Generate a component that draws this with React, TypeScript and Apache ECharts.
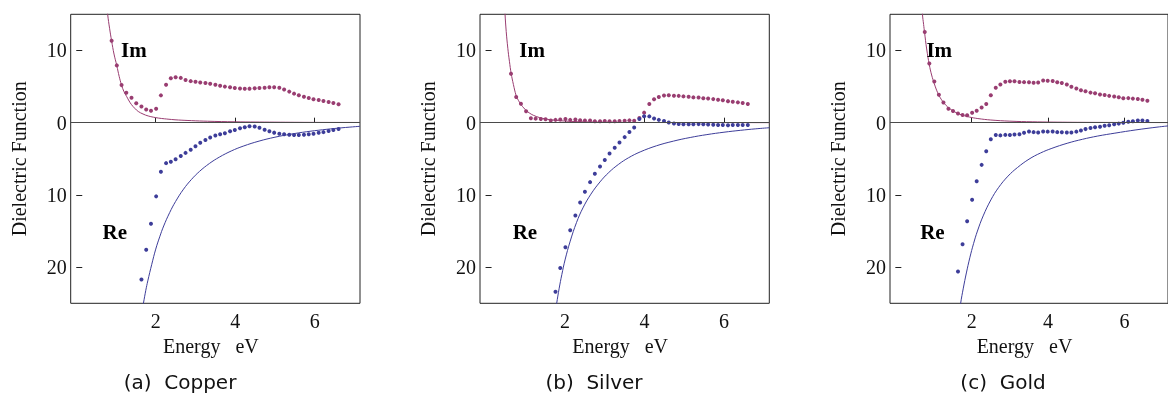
import React, { useEffect, useRef } from "react";
import * as echarts from "echarts";

// Photon energies (eV) of the tabulated optical constants
const ENERGY = [
  0.64, 0.77, 0.89, 1.02, 1.14, 1.26, 1.39, 1.51, 1.64, 1.76, 1.88, 2.01, 2.13,
  2.26, 2.38, 2.5, 2.63, 2.75, 2.88, 3.0, 3.12, 3.25, 3.37, 3.5, 3.62, 3.74,
  3.87, 3.99, 4.12, 4.24, 4.36, 4.49, 4.61, 4.74, 4.86, 4.98, 5.11, 5.23, 5.36,
  5.48, 5.6, 5.73, 5.85, 5.97, 6.1, 6.22, 6.35, 6.47, 6.6,
];

// Measured dielectric function (null = outside the plotted range)
const CU_IM = [
  null, null, 11.34, 7.93, 5.2, 4.14, 3.46, 2.68, 2.25, 1.82, 1.65, 1.93, 3.78,
  5.25, 6.14, 6.28, 6.2, 5.9, 5.75, 5.66, 5.57, 5.48, 5.38, 5.25, 5.12, 4.99,
  4.89, 4.8, 4.74, 4.7, 4.71, 4.75, 4.79, 4.84, 4.89, 4.9, 4.82, 4.6, 4.3, 4.02,
  3.8, 3.6, 3.42, 3.25, 3.13, 3.0, 2.86, 2.72, 2.55,
];
const CU_RE = [
  null, null, null, null, null, null, null, null, -21.7, -17.6, -14.0, -10.2,
  -6.8, -5.6, -5.4, -5.07, -4.6, -4.18, -3.76, -3.25, -2.78, -2.4, -2.05,
  -1.78, -1.61, -1.45, -1.2, -1.01, -0.78, -0.62, -0.5, -0.52, -0.7, -0.98,
  -1.2, -1.38, -1.54, -1.61, -1.68, -1.71, -1.71, -1.66, -1.61, -1.52, -1.4,
  -1.31, -1.15, -1.01, -0.87,
];
const AG_IM = [
  6.76, 3.56, 2.63, 1.59, 0.62, 0.56, 0.5, 0.46, 0.31, 0.39, 0.45, 0.5, 0.39,
  0.43, 0.33, 0.31, 0.29, 0.21, 0.2, 0.23, 0.21, 0.19, 0.23, 0.28, 0.32, 0.28,
  0.64, 1.39, 2.58, 3.23, 3.56, 3.75, 3.79, 3.74, 3.71, 3.64, 3.58, 3.5, 3.47,
  3.39, 3.36, 3.26, 3.18, 3.1, 2.98, 2.91, 2.81, 2.71, 2.59,
];
const AG_RE = [
  null, null, null, null, null, null, null, null, null, -23.4, -20.1, -17.24,
  -14.88, -12.86, -11.05, -9.56, -8.23, -7.06, -6.06, -5.17, -4.28, -3.47,
  -2.74, -2.0, -1.28, -0.66, 0.5, 0.9, 0.87, 0.58, 0.39, 0.22, 0.02, -0.1,
  -0.17, -0.21, -0.21, -0.23, -0.2, -0.22, -0.24, -0.3, -0.32, -0.33, -0.36,
  -0.33, -0.32, -0.31, -0.32,
];
const AU_IM = [
  null, 12.56, 8.19, 5.7, 3.86, 2.79, 1.93, 1.63, 1.27, 1.07, 1.04, 1.37, 1.66,
  2.11, 2.58, 3.81, 4.84, 5.28, 5.65, 5.72, 5.74, 5.64, 5.61, 5.6, 5.54, 5.57,
  5.85, 5.79, 5.78, 5.6, 5.5, 5.28, 4.98, 4.72, 4.49, 4.34, 4.16, 4.06, 3.89,
  3.83, 3.71, 3.61, 3.51, 3.39, 3.4, 3.33, 3.29, 3.18, 3.04,
];
const AU_RE = [
  null, null, null, null, null, null, null, null, -20.61, -16.82, -13.65,
  -10.66, -8.11, -5.84, -3.95, -2.28, -1.7, -1.76, -1.69, -1.7, -1.65, -1.61,
  -1.4, -1.23, -1.31, -1.36, -1.23, -1.24, -1.23, -1.31, -1.33, -1.37, -1.35,
  -1.24, -1.08, -0.89, -0.74, -0.62, -0.55, -0.42, -0.35, -0.23, -0.13, -0.01,
  0.14, 0.2, 0.29, 0.3, 0.23,
];

// Free-electron model curves, [energy, value]
const CU_IM_FIT = [
  [0.76, 17], [0.79, 15.0], [0.84, 13.0], [0.89, 11.3], [0.95, 9.5],
  [1.02, 7.9], [1.08, 6.4], [1.14, 5.2], [1.2, 4.3], [1.27, 3.6], [1.33, 3.0],
  [1.39, 2.5], [1.47, 2.0], [1.56, 1.55], [1.68, 1.2], [1.81, 0.93],
  [2.0, 0.7], [2.15, 0.58], [2.4, 0.44], [2.57, 0.37], [2.9, 0.28],
  [3.3, 0.2], [4.0, 0.12], [5.0, 0.07], [6.0, 0.04], [7.14, 0.03],
];
const CU_RE_FIT = [
  [1.66, -25.9], [1.69, -25.0], [1.75, -23.2], [1.8, -21.9], [1.9, -19.6],
  [2.0, -17.5], [2.1, -15.8], [2.2, -14.3], [2.35, -12.45], [2.5, -10.9],
  [2.7, -9.2], [2.9, -7.85], [3.1, -6.75], [3.35, -5.65], [3.6, -4.77],
  [3.9, -3.92], [4.2, -3.25], [4.6, -2.55], [5.0, -2.01], [5.4, -1.59],
  [5.8, -1.25], [6.2, -0.98], [6.6, -0.75], [7.14, -0.5],
];
const AG_IM_FIT = [
  [0.46, 18], [0.49, 15], [0.52, 12.6], [0.56, 10.3], [0.6, 8.5],
  [0.645, 6.8], [0.7, 5.3], [0.77, 3.75], [0.83, 3.05], [0.9, 2.45],
  [0.96, 2.05], [1.02, 1.7], [1.1, 1.35], [1.2, 1.03], [1.35, 0.72],
  [1.5, 0.52], [1.7, 0.36], [1.9, 0.26], [2.2, 0.17], [2.6, 0.1],
  [3.2, 0.055], [4.0, 0.028], [5.5, 0.012], [7.14, 0.006],
];
const AG_RE_FIT = [
  [1.76, -26.2], [1.79, -25.0], [1.85, -23.0], [1.92, -21.0], [2.0, -19.0],
  [2.13, -16.4], [2.29, -13.8], [2.45, -11.8], [2.65, -9.9], [2.88, -8.2],
  [3.1, -6.9], [3.35, -5.75], [3.6, -4.85], [3.89, -4.05], [4.3, -3.2],
  [4.73, -2.55], [5.15, -2.05], [5.57, -1.65], [6.0, -1.32], [6.41, -1.06],
  [6.8, -0.85], [7.14, -0.7],
];
const AU_IM_FIT = [
  [0.68, 18], [0.71, 15], [0.74, 13.6], [0.765, 12.5], [0.82, 10.2],
  [0.89, 8.0], [0.95, 6.6], [1.02, 5.4], [1.08, 4.5], [1.14, 3.8],
  [1.2, 3.25], [1.26, 2.8], [1.33, 2.38], [1.4, 2.04], [1.5, 1.66],
  [1.62, 1.32], [1.76, 1.04], [1.95, 0.77], [2.16, 0.57], [2.5, 0.37],
  [3.0, 0.21], [3.6, 0.12], [4.5, 0.06], [5.5, 0.035], [7.14, 0.015],
];
const AU_RE_FIT = [
  [1.69, -26.0], [1.71, -25.0], [1.78, -22.9], [1.86, -20.8], [1.95, -18.7],
  [2.05, -16.7], [2.15, -15.0], [2.3, -12.9], [2.5, -10.7], [2.7, -9.0],
  [2.95, -7.4], [3.2, -6.2], [3.5, -5.05], [3.8, -4.2], [4.1, -3.55],
  [4.5, -2.85], [4.9, -2.3], [5.3, -1.85], [5.75, -1.45], [6.3, -1.0],
  [6.88, -0.6], [7.14, -0.45],
];

const X_TICKS = [2, 4, 6];
const Y_TICKS = [-20, -10, 0, 10];
const X_RANGE = [-0.14, 7.14];
const Y_RANGE = [-25, 15];

// Where the "Im" / "Re" tags sit, in data coordinates
const IM_TAG = [[1.45, 10], [1.17, 10], [1.15, 10]];
const RE_TAG = [[0.97, -15.1], [0.99, -15.1], [0.97, -15.1]];

const CAPTIONS = ["(a)  Copper", "(b)  Silver", "(c)  Gold"];

const RE_COLOR = "#3d3d99";
const IM_COLOR = "#993d71";
const FRAME = "#222";
const SERIF = "'Liberation Serif', 'Times New Roman', serif";
const SANS = "'DejaVu Sans', sans-serif";

const METALS = [
  { im: CU_IM, re: CU_RE, imFit: CU_IM_FIT, reFit: CU_RE_FIT },
  { im: AG_IM, re: AG_RE, imFit: AG_IM_FIT, reFit: AG_RE_FIT },
  { im: AU_IM, re: AU_RE, imFit: AU_IM_FIT, reFit: AU_RE_FIT },
];

// Panel layout in pixels
const GRID_LEFT = [70.7, 480, 890];
const GRID_TOP = 14.3;
const GRID_W = 289.3;
const GRID_H = 289;
const CAPTION_X = [180, 594, 1003];
const CAPTION_Y = 382;

const pairs = (values: (number | null)[]) =>
  ENERGY.map((e, i) => [e, values[i]]).filter((p) => p[1] !== null);

export default function App() {
  const ref = useRef<HTMLDivElement>(null);

  useEffect(() => {
    if (!ref.current) return;
    const chart = echarts.init(ref.current, undefined, { renderer: "svg" });

    const grid = METALS.map((_, i) => ({
      left: GRID_LEFT[i],
      top: GRID_TOP,
      width: GRID_W,
      height: GRID_H,
      show: true,
      borderColor: FRAME,
      borderWidth: 1,
      backgroundColor: "transparent",
    }));

    const xAxis = METALS.map((_, i) => ({
      type: "value",
      gridIndex: i,
      min: X_RANGE[0],
      max: X_RANGE[1],
      name: "Energy\u2002 eV",
      nameLocation: "middle",
      nameGap: 31,
      nameTextStyle: {
        fontFamily: SERIF,
        fontSize: 20,
        color: "#111",
        padding: [0, 9, 0, 0],
      },
      axisLine: { show: false },
      axisTick: {
        show: true,
        inside: true,
        length: 5,
        customValues: X_TICKS,
        lineStyle: { color: FRAME, width: 1 },
      },
      axisLabel: {
        customValues: X_TICKS,
        margin: 8,
        fontFamily: SERIF,
        fontSize: 20,
        color: "#111",
      },
      splitLine: { show: false },
    }));

    const yAxis = METALS.map((_, i) => ({
      type: "value",
      gridIndex: i,
      min: Y_RANGE[0],
      max: Y_RANGE[1],
      name: "Dielectric Function",
      nameLocation: "middle",
      nameGap: 42,
      nameRotate: 90,
      nameTextStyle: { fontFamily: SERIF, fontSize: 20, color: "#111" },
      axisLine: { show: false },
      axisTick: {
        show: true,
        inside: true,
        length: 6,
        customValues: Y_TICKS,
        lineStyle: { color: FRAME, width: 1 },
      },
      axisLabel: {
        customValues: Y_TICKS,
        formatter: (v: number) => String(Math.abs(v)),
        margin: 4,
        fontFamily: SERIF,
        fontSize: 20,
        color: "#111",
      },
      splitLine: { show: false },
    }));

    const series: any[] = [];
    METALS.forEach((m, i) => {
      series.push({
        type: "line",
        xAxisIndex: i,
        yAxisIndex: i,
        data: m.imFit,
        showSymbol: false,
        smooth: 0.4,
        clip: true,
        lineStyle: { color: IM_COLOR, width: 1 },
        z: 3,
        markLine: {
          silent: true,
          symbol: "none",
          label: { show: false },
          lineStyle: { color: "#4a4a4a", width: 1, type: "solid" },
          data: [{ yAxis: 0 }],
        },
      });
      series.push({
        type: "line",
        xAxisIndex: i,
        yAxisIndex: i,
        data: m.reFit,
        showSymbol: false,
        smooth: 0.4,
        clip: true,
        lineStyle: { color: RE_COLOR, width: 1 },
        z: 3,
      });
      series.push({
        type: "scatter",
        xAxisIndex: i,
        yAxisIndex: i,
        data: pairs(m.im),
        symbolSize: 4,
        itemStyle: { color: IM_COLOR, opacity: 1 },
        z: 4,
      });
      series.push({
        type: "scatter",
        xAxisIndex: i,
        yAxisIndex: i,
        data: pairs(m.re),
        symbolSize: 4,
        itemStyle: { color: RE_COLOR, opacity: 1 },
        z: 4,
      });
    });

    chart.setOption({ animation: false, grid, xAxis, yAxis, series });

    const graphic: any[] = [];
    METALS.forEach((_, i) => {
      const im = chart.convertToPixel({ gridIndex: i }, IM_TAG[i]) as number[];
      const re = chart.convertToPixel({ gridIndex: i }, RE_TAG[i]) as number[];
      graphic.push({
        type: "text",
        x: im[0],
        y: im[1],
        z: 10,
        style: {
          text: "Im",
          font: `bold 21px ${SERIF}`,
          fill: "#000",
          textAlign: "center",
          textVerticalAlign: "middle",
        },
      });
      graphic.push({
        type: "text",
        x: re[0],
        y: re[1],
        z: 10,
        style: {
          text: "Re",
          font: `bold 21px ${SERIF}`,
          fill: "#000",
          textAlign: "center",
          textVerticalAlign: "middle",
        },
      });
      graphic.push({
        type: "text",
        x: CAPTION_X[i],
        y: CAPTION_Y,
        style: {
          text: CAPTIONS[i],
          font: `20px ${SANS}`,
          fill: "#111",
          textAlign: "center",
          textVerticalAlign: "middle",
        },
      });
    });
    chart.setOption({ graphic });

    return () => chart.dispose();
  }, []);

  return (
    <div
      ref={ref}
      style={{ position: "fixed", left: 0, top: 0, width: 1168, height: 394 }}
    />
  );
}
